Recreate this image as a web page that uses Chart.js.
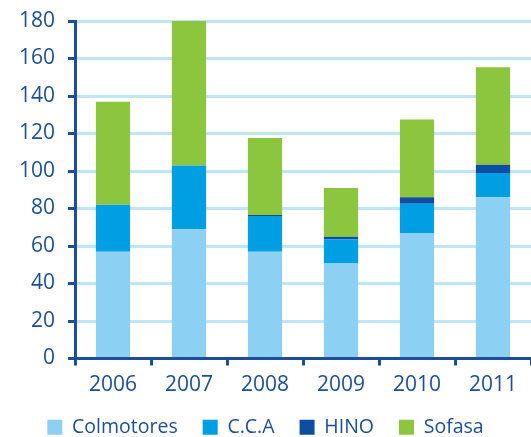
<!DOCTYPE html>
<html>
<head>
<meta charset="utf-8">
<script src="https://cdn.jsdelivr.net/npm/chart.js@4"></script>
<style>
  html, body { margin: 0; padding: 0; background: #fff; }
  #wrap { width: 531px; height: 437px; }
</style>
</head>
<body>
<div id="wrap"><canvas id="barChart"></canvas></div>
<script>
//data
var years = ['2006', '2007', '2008', '2009', '2010', '2011'];
var colmotores = [57, 69, 57, 51, 67, 86];
var cca = [25, 34, 19, 12.5, 15.5, 13];
var hino = [0, 0, 0.6, 1.4, 3.5, 4.4];
var sofasa = [55, 77, 41, 26, 41.5, 52];
var yTicks = [0, 20, 40, 60, 80, 100, 120, 140, 160, 180];

var textColor = '#1b4f9b';
var axisColor = '#1b4f9b';
var gridColor = '#bfe6f7';

var barContext = document.getElementById('barChart').getContext('2d');

function makeSet(label, data, color) {
    return {
        label: label,
        data: data,
        backgroundColor: color,
        borderWidth: 0,
        barPercentage: 0.45,
        categoryPercentage: 1
    };
}

var barData = {
    labels: years,
    datasets: [
        makeSet('Colmotores', colmotores, '#8cd1f3'),
        makeSet('C.C.A', cca, '#009fe3'),
        makeSet('HINO', hino, '#0d4ea3'),
        makeSet('Sofasa', sofasa, '#8cc63f')
    ]
};

var barOptions = {
    responsive: true,
    maintainAspectRatio: false,
    animation: false,
    layout: { padding: { top: 21, right: 0, left: 0, bottom: -10 } },
    plugins: {
        tooltip: { enabled: false },
        legend: {
            position: 'bottom',
            labels: {
                color: textColor,
                font: { family: 'Open Sans', size: 19.5 },
                boxWidth: 15,
                boxHeight: 15,
                padding: 25,
                useBorderRadius: false
            }
        }
    },
    scales: {
        x: {
            stacked: true,
            offset: true,
            afterFit: function (scale) { scale.height = 34; },
            grid: {
                offset: true,
                drawOnChartArea: false,
                tickColor: axisColor,
                tickLength: 7,
                tickWidth: 3
            },
            border: { color: axisColor, width: 3 },
            ticks: {
                color: textColor,
                font: { family: 'Open Sans', size: 21 },
                padding: 7
            }
        },
        y: {
            stacked: true,
            min: 0,
            max: 180,
            afterBuildTicks: function (scale) {
                scale.ticks = yTicks.map(function (v) { return { value: v }; });
            },
            afterFit: function (scale) {
                scale.width = 75;
                scale.paddingTop = 0;
                scale.paddingBottom = 0;
            },
            grid: {
                color: gridColor,
                lineWidth: 3,
                tickColor: axisColor,
                tickLength: 7,
                tickWidth: 3
            },
            border: { color: axisColor, width: 3 },
            ticks: {
                color: textColor,
                font: { family: 'Open Sans', size: 21 },
                padding: 13
            }
        }
    }
};

var barChart = new Chart(barContext, {
    type: 'bar',
    data: barData,
    options: barOptions
});
</script>
</body>
</html>
